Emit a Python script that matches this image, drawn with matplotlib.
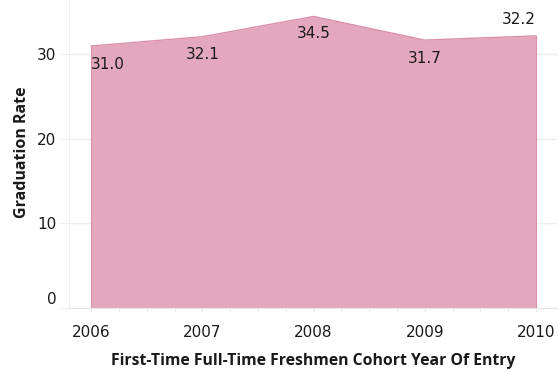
import matplotlib
matplotlib.use("Agg")
import matplotlib.pyplot as plt
import matplotlib.transforms as mtransforms
from matplotlib.ticker import MultipleLocator

# Graduation rate by cohort year of entry
years = [2006, 2007, 2008, 2009, 2010]
rates = [31.0, 32.1, 34.5, 31.7, 32.2]
y_ticks = [0, 10, 20, 30]
x_ticks = years

fill_color = "#E3A8BD"
edge_color = "#DB8FAB"
grid_color = "#EEEEEE"
text_color = "#1A1A1A"

fig = plt.figure(figsize=(5.59, 3.73), dpi=100)
W, H = 559, 373
ax = fig.add_axes([69 / W, (H - 308) / H, (557 - 69) / W, 308 / H])

ax.fill_between(years, rates, 0, color=fill_color, linewidth=0, zorder=2)
ax.plot(years, rates, color=edge_color, linewidth=1.0, zorder=3)
ax.plot([years[0], years[0]], [0, rates[0]], color=edge_color, linewidth=0.8, zorder=3)
ax.plot([years[-1], years[-1]], [0, rates[-1]], color=edge_color, linewidth=0.8, zorder=3)

ax.set_xlim(2005.80, 2010.19)
ax.set_ylim(-0.05, 36.45)

ax.set_yticks(y_ticks)
ax.set_xticks(x_ticks)
ax.xaxis.set_minor_locator(MultipleLocator(0.25))
ax.grid(axis="y", color=grid_color, linewidth=1.0, zorder=0)
ax.set_axisbelow(True)

for side in ["top", "right"]:
    ax.spines[side].set_visible(False)
ax.spines["left"].set_color(grid_color)
ax.spines["bottom"].set_color("#E6E6E6")

ax.tick_params(axis="y", length=7, color=grid_color, pad=2, labelsize=11,
               labelcolor=text_color)
ax.tick_params(axis="x", which="major", length=3, color="#E6E6E6", pad=9,
               labelsize=11, labelcolor=text_color)
ax.tick_params(axis="x", which="minor", length=3, color="#E6E6E6")

# Keep the bottom tick label inside the plot frame
for lbl in ax.get_yticklabels():
    if lbl.get_text() == "0":
        lbl.set_transform(lbl.get_transform() +
                          mtransforms.ScaledTranslation(0, 10 / 100, fig.dpi_scale_trans))

# Value labels
offsets = [(0, -13, "left"), (0, -13, "center"), (0, -12.5, "center"),
           (0, -13, "center"), (0, 11.5, "right")]
for x, y, (dx, dy, ha) in zip(years, rates, offsets):
    ax.annotate(f"{y:.1f}", (x, y), xytext=(dx, dy), textcoords="offset points",
                ha=ha, va="center", fontsize=11, color=text_color, zorder=4)

ax.set_xlabel("First-Time Full-Time Freshmen Cohort Year Of Entry",
              fontsize=11.3, fontweight="bold", family="Open Sans",
              color=text_color)
ax.xaxis.set_label_coords(0.5, -(361 - 308) / 308)
ax.xaxis.label.set_va("center")
ax.set_ylabel("Graduation Rate", fontsize=11.5, fontweight="bold",
              family="Open Sans", color=text_color)
ax.yaxis.set_label_coords(-(69 - 22) / (557 - 69), (308 - 152) / 308)
ax.yaxis.label.set_va("center")

fig.savefig("out.png", dpi=100)
